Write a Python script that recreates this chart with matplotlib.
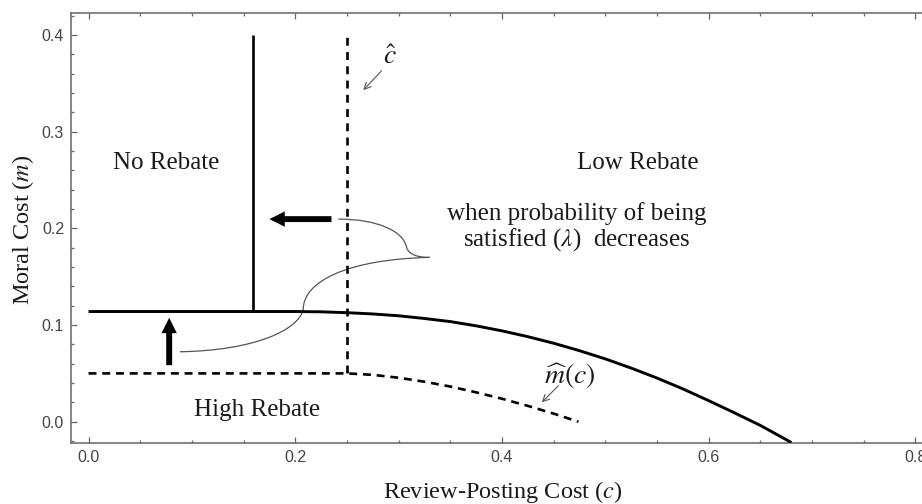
import matplotlib
matplotlib.use("Agg")
import matplotlib.pyplot as plt
from matplotlib.path import Path
from matplotlib.patches import PathPatch, FancyArrowPatch
from matplotlib.ticker import MultipleLocator

plt.rcParams['mathtext.fontset'] = 'stix'

# ---- data ----
# solid threshold curve (between Low Rebate and High/No Rebate)
c_solid = [0.00, 0.05, 0.10, 0.15, 0.20, 0.225, 0.25, 0.275, 0.30, 0.325, 0.35,
           0.375, 0.40, 0.425, 0.45, 0.475, 0.50, 0.525, 0.55, 0.575, 0.60,
           0.625, 0.65, 0.68]
m_solid = [0.114, 0.114, 0.114, 0.114, 0.1140, 0.1137, 0.1128, 0.1115, 0.1096,
           0.1068, 0.1036, 0.0992, 0.0940, 0.0880, 0.0812, 0.0735, 0.0650,
           0.0555, 0.0452, 0.0340, 0.0218, 0.0092, -0.0038, -0.0215]
# solid vertical boundary (No Rebate | Low Rebate)
c_vert_solid = [0.159, 0.159]
m_vert_solid = [0.114, 0.400]

# dashed m-hat(c) curve
c_dash = [0.00, 0.10, 0.20, 0.25, 0.275, 0.30, 0.325, 0.35, 0.375, 0.40,
          0.425, 0.45, 0.474]
m_dash = [0.050, 0.050, 0.050, 0.050, 0.0485, 0.0455, 0.0414, 0.0364, 0.0304,
          0.0238, 0.0164, 0.0084, 0.000]
# dashed vertical c-hat
c_vert_dash = [0.25, 0.25]
m_vert_dash = [0.050, 0.402]

# region labels
region_labels = ["No Rebate", "Low Rebate", "High Rebate"]
region_c = [0.075, 0.531, 0.163]
region_m = [0.2676, 0.2676, 0.0121]

# thick shift arrows (tail -> head)
arrow_left = [(0.235, 0.2096), (0.175, 0.2096)]
arrow_up = [(0.078, 0.0585), (0.078, 0.1075)]

# thin callout curves (bezier vertices)
callout_upper = [(0.2417, 0.2096), (0.280, 0.2096), (0.305, 0.197), (0.3078, 0.180),
                 (0.310, 0.173), (0.318, 0.170), (0.330, 0.170)]
callout_lower = [(0.330, 0.170), (0.250, 0.168), (0.208, 0.145), (0.2077, 0.1166),
                 (0.204, 0.095), (0.160, 0.0735), (0.0884, 0.0724)]

xticks = [0.0, 0.2, 0.4, 0.6, 0.8]
yticks = [0.0, 0.1, 0.2, 0.3, 0.4]

# ---- figure ----
fig = plt.figure(figsize=(9.22, 5.04), dpi=100)
ax = fig.add_axes([71 / 922, 61 / 504, 864 / 922, 430 / 504])
ax.set_xlim(-0.017, 0.819)
ax.set_ylim(-0.022, 0.4228)

ax.plot(c_solid, m_solid, color='black', lw=2.1, solid_capstyle='butt', zorder=3)
ax.plot(c_vert_solid, m_vert_solid, color='black', lw=1.9, solid_capstyle='butt', zorder=3)
ax.plot(c_dash, m_dash, color='black', lw=1.9, ls=(0, (3.0, 2.2)), zorder=3)
ax.plot(c_vert_dash, m_vert_dash, color='black', lw=1.9, ls=(0, (3.0, 2.4)), zorder=3)

serif = 'Liberation Serif'
for lab, cx, my in zip(region_labels, region_c, region_m):
    ax.text(cx, my, lab, ha='center', va='center', fontsize=18,
            family=serif, color='#1a1a1a')

ax.text(0.472, 0.2013, "when probability of being\nsatisfied ($\\lambda$)  decreases",
        ha='center', va='center', fontsize=18, family=serif, color='#1a1a1a',
        linespacing=1.05)

# thick arrows
for (t, h) in (arrow_left, arrow_up):
    ax.add_patch(FancyArrowPatch(t, h, arrowstyle='simple,head_length=0.65,head_width=0.65,tail_width=0.25',
                                 mutation_scale=17, color='black', lw=0, zorder=4,
                                 shrinkA=0, shrinkB=0))

# callouts
codes = [Path.MOVETO, Path.CURVE4, Path.CURVE4, Path.CURVE4, Path.CURVE4, Path.CURVE4, Path.CURVE4]
for pts in (callout_upper, callout_lower):
    ax.add_patch(PathPatch(Path(pts, codes), fill=False, edgecolor='#555555', lw=0.9, zorder=2))

# c-hat annotation
ax.annotate("", xy=(0.2658, 0.343), xytext=(0.2836, 0.363),
            arrowprops=dict(arrowstyle='->', color='#555555', lw=0.8,
                            shrinkA=0, shrinkB=0, mutation_scale=12))
ax.text(0.2917, 0.378, "$\\hat{c}$", ha='center', va='center', fontsize=20, color='#1a1a1a')

# m-hat annotation
ax.annotate("", xy=(0.4385, 0.020), xytext=(0.4546, 0.0372),
            arrowprops=dict(arrowstyle='->', color='#555555', lw=0.8,
                            shrinkA=0, shrinkB=0, mutation_scale=12))
ax.text(0.466, 0.0476, "$\\widehat{m}(c)$", ha='center', va='center', fontsize=20, color='#1a1a1a')

# axes styling
for side in ('left', 'bottom', 'top'):
    ax.spines[side].set_color('#666666')
    ax.spines[side].set_linewidth(1.1)
ax.spines['right'].set_visible(False)

ax.set_xticks(xticks)
ax.set_yticks(yticks)
ax.set_xticklabels([f"{v:.1f}" for v in xticks])
ax.set_yticklabels([f"{v:.1f}" for v in yticks])
ax.xaxis.set_minor_locator(MultipleLocator(0.05))
ax.yaxis.set_minor_locator(MultipleLocator(0.02))
ax.tick_params(which='both', direction='in', top=True, right=False, color='#666666', width=0.9)
ax.tick_params(which='major', length=4.5, pad=5, labelsize=11.5, labelcolor='#444444')
ax.tick_params(which='minor', length=2.5)
for lbl in ax.get_xticklabels() + ax.get_yticklabels():
    lbl.set_family('Liberation Sans')

ax.set_xlabel("Review-Posting Cost ($c$)", fontsize=17.5, family=serif, color='#1a1a1a')
ax.set_ylabel("Moral Cost ($m$)", fontsize=17.5, family=serif, color='#1a1a1a')
ax.xaxis.set_label_coords(0.5, -0.083)
ax.yaxis.set_label_coords(-0.040, 0.495)

fig.savefig("out.png", dpi=100)
